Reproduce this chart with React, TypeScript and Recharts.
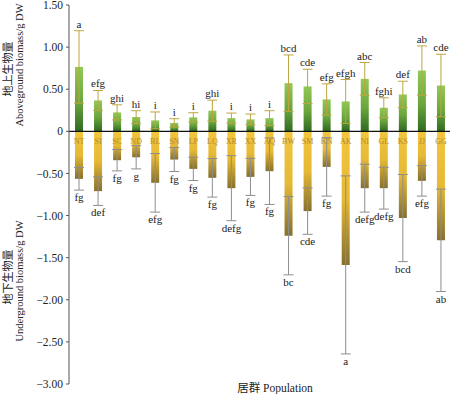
import { BarChart, Bar, XAxis, YAxis, ErrorBar, LabelList, ReferenceLine } from 'recharts';

const populations = ['NT', 'SI', 'SC', 'ND', 'BL', 'SN', 'LP', 'LQ', 'XR', 'XX', 'AQ', 'BW', 'SM', 'KN', 'AK', 'NI', 'GL', 'KS', 'JJ', 'GG'];

// aboveground biomass (g DW), mean and SD
const aboveMean = [0.765, 0.367, 0.225, 0.17, 0.13, 0.1, 0.166, 0.245, 0.157, 0.142, 0.157, 0.572, 0.533, 0.379, 0.355, 0.623, 0.28, 0.438, 0.722, 0.544];
const aboveErr = [0.43, 0.118, 0.09, 0.075, 0.1, 0.05, 0.055, 0.125, 0.06, 0.063, 0.088, 0.335, 0.204, 0.185, 0.26, 0.194, 0.118, 0.157, 0.292, 0.371];
const aboveSig = ['a', 'efg', 'ghi', 'hi', 'i', 'i', 'i', 'ghi', 'i', 'i', 'i', 'bcd', 'cde', 'efg', 'efgh', 'abc', 'fghi', 'def', 'ab', 'cde'];

// underground biomass (g DW), drawn downwards
const belowMean = [-0.564, -0.71, -0.343, -0.308, -0.611, -0.335, -0.446, -0.552, -0.675, -0.541, -0.473, -1.239, -0.947, -0.422, -1.586, -0.675, -0.675, -1.03, -0.588, -1.294];
const belowErr = [0.134, 0.17, 0.127, 0.138, 0.348, 0.142, 0.138, 0.229, 0.386, 0.22, 0.395, 0.465, 0.276, 0.347, 1.057, 0.284, 0.248, 0.517, 0.181, 0.608];
const belowSig = ['fg', 'def', 'fg', 'g', 'efg', 'fg', 'fg', 'fg', 'defg', 'fg', 'fg', 'bc', 'cde', 'fg', 'a', 'defg', 'defg', 'bcd', 'efg', 'ab'];

const yTicks = [1.5, 1, 0.5, 0, -0.5, -1, -1.5, -2, -2.5, -3];

const data = populations.map((name, i) => ({
  name,
  above: aboveMean[i],
  aboveErr: aboveErr[i],
  below: belowMean[i],
  belowErr: belowErr[i],
}));

const serif = 'Liberation Serif';
const cjk = 'Noto Sans CJK SC';

const rectOf = (props: any) => {
  const vb = props.viewBox && props.viewBox.width !== undefined ? props.viewBox : props;
  const x = Number(vb.x);
  const y = Number(vb.y);
  const w = Number(vb.width);
  const h = Number(vb.height);
  return { x, w, top: Math.min(y, y + h), bottom: Math.max(y, y + h), h: Math.abs(h) };
};

const AboveLetter = (props: any) => {
  const i = props.index;
  const r = rectOf(props);
  const k = r.h / Math.abs(aboveMean[i]);
  const top = r.top - aboveErr[i] * k;
  return (
    <text x={r.x + r.w / 2} y={top - 3} textAnchor="middle" fontSize={11} fontFamily={serif} fill="#222">
      {aboveSig[i]}
    </text>
  );
};

const BelowLetter = (props: any) => {
  const i = props.index;
  const r = rectOf(props);
  const k = r.h / Math.abs(belowMean[i]);
  const bottom = r.bottom + belowErr[i] * k;
  return (
    <text x={r.x + r.w / 2} y={bottom + 11} textAnchor="middle" fontSize={11} fontFamily={serif} fill="#222">
      {belowSig[i]}
    </text>
  );
};

const PopName = (props: any) => {
  const i = props.index;
  const r = rectOf(props);
  return (
    <text x={r.x + r.w / 2} y={r.top + 13} textAnchor="middle" fontSize={8} fontFamily={serif} fill="#b08a30">
      {populations[i]}
    </text>
  );
};

const fmt = (v: number) => (v === 0 ? '0' : v.toFixed(2).replace('-', '−'));

export default function App() {
  return (
    <div style={{ position: 'absolute', left: 0, top: 0, width: 450, height: 394, background: '#fff' }}>
      <BarChart
        width={450}
        height={394}
        data={data}
        stackOffset="sign"
        barSize={8}
        margin={{ top: 5, right: 0, bottom: 10, left: 0 }}
      >
        <defs>
          <linearGradient id="gradGreen" x1="0" y1="0" x2="0" y2="1">
            <stop offset="0%" stopColor="#92c957" />
            <stop offset="55%" stopColor="#6aa63d" />
            <stop offset="100%" stopColor="#2f6a22" />
          </linearGradient>
          <linearGradient id="gradYellow" x1="0" y1="0" x2="0" y2="1">
            <stop offset="0%" stopColor="#f2c63c" />
            <stop offset="50%" stopColor="#e6b936" />
            <stop offset="100%" stopColor="#86702c" />
          </linearGradient>
        </defs>
        <XAxis dataKey="name" hide />
        <YAxis
          width={69}
          domain={[-3, 1.5]}
          ticks={yTicks}
          interval={0}
          tickFormatter={fmt}
          tickSize={3}
          tickMargin={3}
          stroke="#555"
          tick={{ fontSize: 11.5, fontFamily: serif, fill: '#222' }}
        />
        <Bar dataKey="above" stackId="s" fill="url(#gradGreen)" isAnimationActive={false}>
          <ErrorBar dataKey="aboveErr" width={5} stroke="#bfa53e" strokeWidth={1} direction="y" />
          <LabelList dataKey="name" content={(p: any) => <AboveLetter {...p} />} />
        </Bar>
        <Bar dataKey="below" stackId="s" fill="url(#gradYellow)" isAnimationActive={false}>
          <ErrorBar dataKey="belowErr" width={5} stroke="#8e8e8e" strokeWidth={1} direction="y" />
          <LabelList dataKey="name" content={(p: any) => <BelowLetter {...p} />} />
          <LabelList dataKey="name" content={(p: any) => <PopName {...p} />} />
        </Bar>
        <ReferenceLine y={0} stroke="#111" strokeWidth={1.2} ifOverflow="extendDomain" />
      </BarChart>
      <svg width={450} height={394} style={{ position: 'absolute', left: 0, top: 0, pointerEvents: 'none' }}>
        <text transform="translate(12,69) rotate(-90)" textAnchor="middle" fontSize={11} fontFamily={cjk} fill="#222">
          地上生物量
        </text>
        <text transform="translate(22.5,65) rotate(-90)" textAnchor="middle" fontSize={10.5} fontFamily={serif} fill="#222">
          Aboveground biomass/g DW
        </text>
        <text transform="translate(12,277) rotate(-90)" textAnchor="middle" fontSize={11} fontFamily={cjk} fill="#222">
          地下生物量
        </text>
        <text transform="translate(22.5,281) rotate(-90)" textAnchor="middle" fontSize={10.5} fontFamily={serif} fill="#222">
          Underground biomass/g DW
        </text>
        <text x={275} y={392} textAnchor="middle" fontSize={11.5} fill="#222">
          <tspan fontFamily={cjk}>居群</tspan>
          <tspan fontFamily={serif}> Population</tspan>
        </text>
      </svg>
    </div>
  );
}
